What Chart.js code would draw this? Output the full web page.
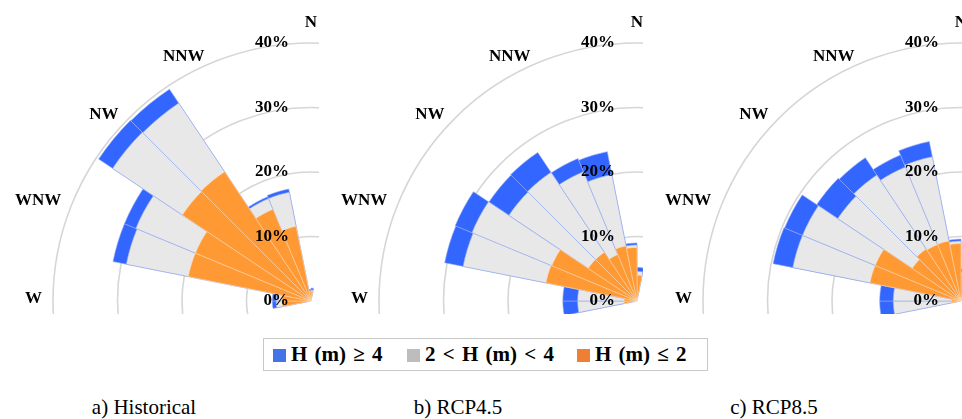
<!DOCTYPE html>
<html>
<head>
<meta charset="utf-8">
<script src="https://cdn.jsdelivr.net/npm/chart.js@4.4.0/dist/chart.umd.min.js"></script>
<style>
  body { margin: 0; background: #fff; width: 962px; height: 419px; position: relative; overflow: hidden;
         font-family: "Liberation Serif", "Times New Roman", Times, serif; color: #000; }
  .panel { position: absolute; top: 0; height: 314px; overflow: hidden; }
  .panel canvas { position: absolute; top: -19px; }
  #legend { position: absolute; left: 263px; top: 338px; width: 443px; height: 31px;
            border: 1.5px solid #c8c8c8; font-weight: bold; font-size: 21px; word-spacing: 2px; }
  #legend .item { position: absolute; top: 4px; white-space: nowrap; line-height: 23px; }
  #legend .sw { display: inline-block; width: 13px; height: 13px; margin-right: 5px; vertical-align: -1px; }
  .caption { position: absolute; top: 395px; font-size: 21px; white-space: nowrap; transform: translateX(-50%); }
</style>
</head>
<body>
<div class="panel" style="left:0;width:319px"><canvas id="roseA" width="640" height="640" style="left:-9px"></canvas></div>
<div class="panel" style="left:320px;width:323px"><canvas id="roseB" width="640" height="640" style="left:-3px"></canvas></div>
<div class="panel" style="left:644px;width:318px"><canvas id="roseC" width="640" height="640" style="left:-3px"></canvas></div>

<div id="legend">
  <span class="item" style="left:9px"><span class="sw" style="background:#4472e8"></span>H (m) ≥ 4</span>
  <span class="item" style="left:143px"><span class="sw" style="background:#bdbdbd"></span>2 &lt; H (m) &lt; 4</span>
  <span class="item" style="left:313px"><span class="sw" style="background:#ee7f33"></span>H (m) ≤ 2</span>
</div>

<div class="caption" style="left:144px">a) Historical</div>
<div class="caption" style="left:458px">b) RCP4.5</div>
<div class="caption" style="left:774px">c) RCP8.5</div>

<script>
// 32 sub-sectors of 11.25 deg, only W..N is visible
const sectors = ['W1', 'W2', 'WNW1', 'WNW2', 'NW1', 'NW2', 'NNW1', 'NNW2', 'N1', 'N2'];
const firstSector = 23;
const directions = ['W', 'WNW', 'NW', 'NNW', 'N'];
const dirIndex = [24, 26, 28, 30, 0];
const tickValues = [0, 10, 20, 30, 40];
const serif = '"Liberation Serif", "Times New Roman", Times, serif';

// frequency (%) of each wave height class per sub-sector
const histLow  = [4.5, 4.5, 19.4, 19.4, 24.0, 24.1, 15.4, 11.8, 1.5, 1.5];
const histMid  = [0.9, 0.9, 9.8, 10.0, 13.0, 12.8, 1.8, 5.4, 0.1, 0.2];
const histHigh = [0.6, 0.6, 2.1, 1.9, 2.6, 2.6, 0.3, 0.5, 0.2, 0.3];

const rcp45Low  = [2.0, 2.0, 14.4, 14.3, 9.1, 9.1, 7.8, 8.7, 8.3, 4.0];
const rcp45Mid  = [7.2, 7.2, 13.1, 13.4, 14.8, 14.9, 13.9, 11.3, 0.4, 0.6];
const rcp45High = [2.3, 2.3, 2.9, 2.8, 3.7, 3.7, 2.2, 3.6, 0.3, 0.6];

const rcp85Low  = [1.5, 1.5, 14.4, 14.4, 9.1, 9.7, 9.5, 9.5, 8.9, 4.0];
const rcp85Mid  = [9.0, 9.0, 12.2, 12.2, 13.9, 13.8, 13.0, 13.3, 0.4, 0.5];
const rcp85High = [2.1, 2.1, 3.1, 3.0, 3.9, 3.2, 2.0, 2.4, 0.3, 0.5];

function rose(values) {
  let r = new Array(32).fill(0);
  values.forEach(function (v, i) { r[(firstSector + i) % 32] = v; });
  return r;
}

function addUp(a, b) {
  return a.map(function (v, i) { return v + b[i]; });
}

let roseLabels = new Array(32).fill('');
dirIndex.forEach(function (k, i) { roseLabels[k] = directions[i]; });

const roseText = {
  id: 'roseText',
  afterDatasetsDraw(chart) {
    let s = chart.scales.r;
    let ctx = chart.ctx;
    ctx.save();
    ctx.fillStyle = '#000';
    ctx.font = 'bold 17px ' + serif;
    ctx.textAlign = 'right';
    ctx.textBaseline = 'middle';
    tickValues.forEach(function (v) {
      ctx.fillText(v + '%', s.xCenter - 22, s.yCenter - s.getDistanceFromCenterForValue(v));
    });
    directions.forEach(function (d, i) {
      if (d == 'N') {
        let p = s.getPointPosition(dirIndex[i], s.drawingArea + 16);
        ctx.textAlign = 'center';
        ctx.textBaseline = 'alphabetic';
        ctx.fillText(d, p.x, p.y);
      } else if (d == 'W') {
        let p = s.getPointPosition(dirIndex[i], s.drawingArea + 7);
        ctx.textAlign = 'right';
        ctx.textBaseline = 'middle';
        ctx.fillText(d, p.x - 4, p.y - 2);
      } else {
        let p = s.getPointPosition(dirIndex[i], s.drawingArea + 7);
        ctx.textAlign = 'right';
        ctx.textBaseline = 'alphabetic';
        ctx.fillText(d, p.x - 5, p.y + 5);
      }
    });
    ctx.restore();
  }
};

function makeRose(id, low, mid, high) {
  let gray = addUp(low, mid);
  let total = addUp(gray, high);
  new Chart(document.getElementById(id), {
    type: 'polarArea',
    data: {
      labels: roseLabels,
      datasets: [
        { label: 'H (m) ≤ 2', data: rose(low), backgroundColor: '#ff9933',
          borderColor: 'rgba(255,225,190,0.6)', borderWidth: 0.8 },
        { label: '2 < H (m) < 4', data: rose(gray), backgroundColor: '#e8e8e8',
          borderColor: 'rgba(150,170,240,0.75)', borderWidth: 0.8 },
        { label: 'H (m) ≥ 4', data: rose(total), backgroundColor: '#3366ff',
          borderColor: 'rgba(150,170,240,0.75)', borderWidth: 0.8 }
      ]
    },
    options: {
      responsive: false,
      animation: false,
      layout: { padding: 62 },
      plugins: { legend: { display: false }, tooltip: { enabled: false } },
      scales: {
        r: {
          min: 0,
          max: 40,
          startAngle: 0,
          ticks: { display: false, stepSize: 10 },
          grid: { circular: true, color: '#d6d6d6', lineWidth: 1.6 },
          angleLines: { display: false },
          pointLabels: { display: false }
        }
      }
    },
    plugins: [roseText]
  });
}

makeRose('roseA', histLow, histMid, histHigh);
makeRose('roseB', rcp45Low, rcp45Mid, rcp45High);
makeRose('roseC', rcp85Low, rcp85Mid, rcp85High);
</script>
</body>
</html>
